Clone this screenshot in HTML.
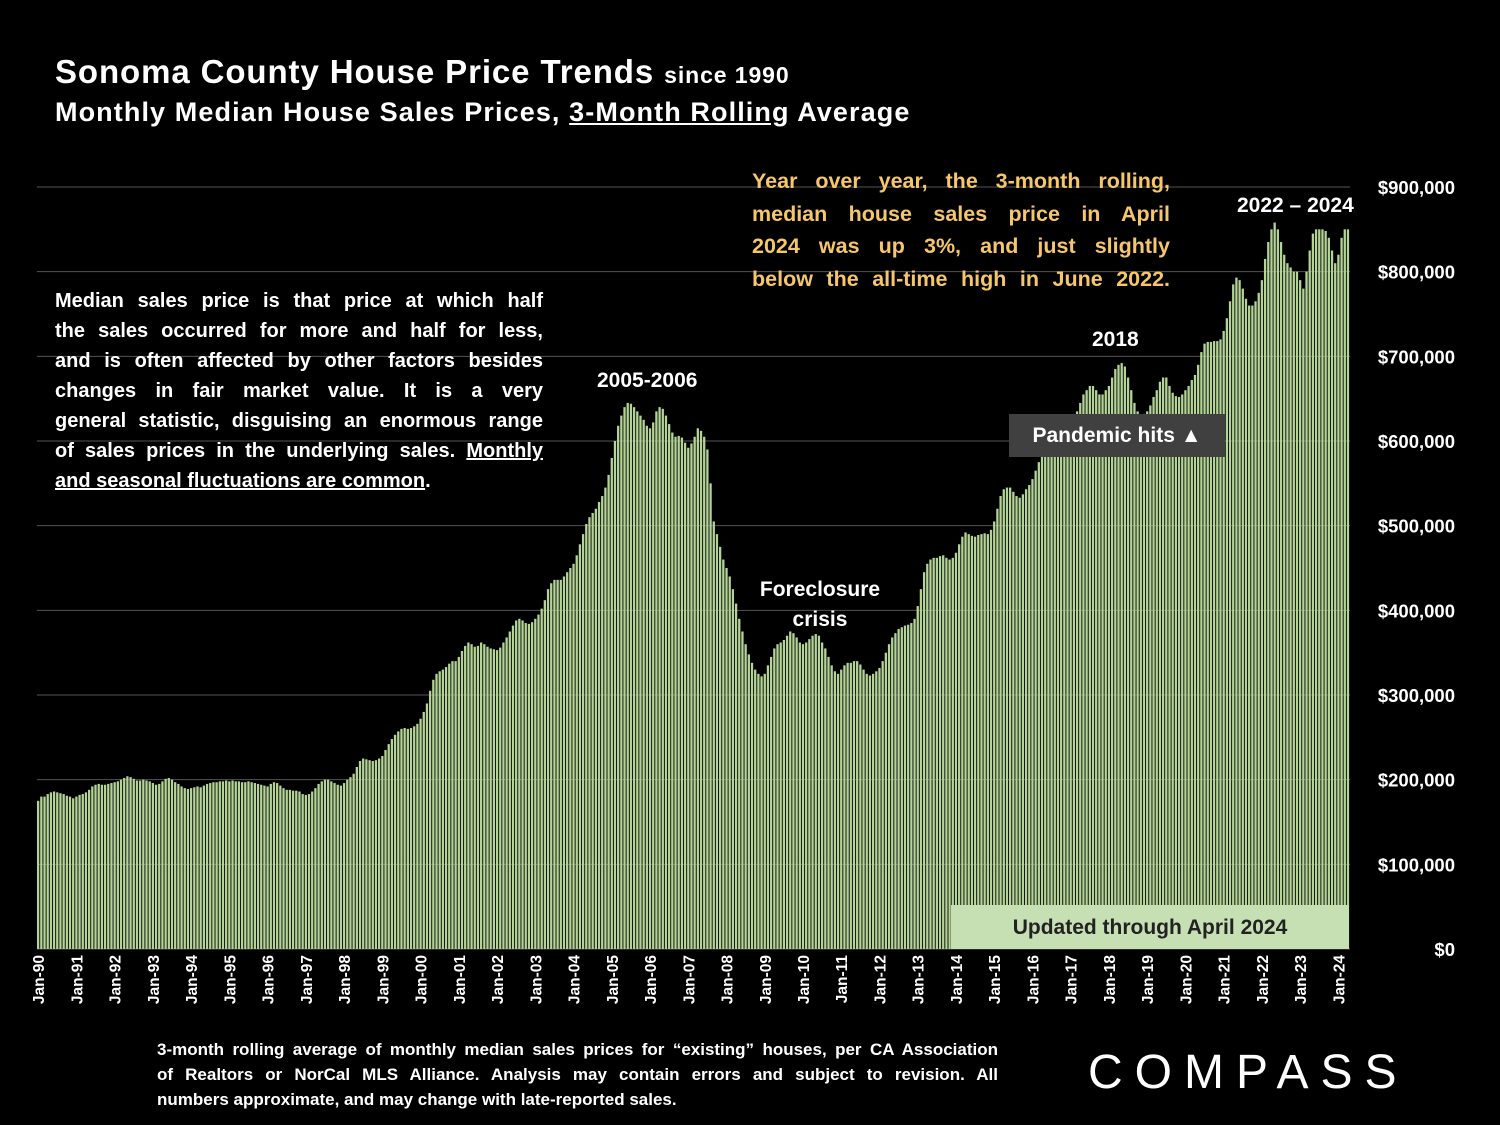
<!DOCTYPE html>
<html><head><meta charset="utf-8">
<style>
body{margin:0;background:#000;width:1500px;height:1125px;overflow:hidden;position:relative;font-family:"Liberation Sans",sans-serif;font-weight:bold;color:#fff}
.abs{position:absolute}
.j{text-align:justify;text-align-last:justify;white-space:nowrap}
.l{text-align:left;white-space:nowrap}
</style></head><body>
<div class="abs" style="left:55px;top:53px;font-size:33px;white-space:nowrap;letter-spacing:0.9px">Sonoma County House Price Trends <span style="font-size:23px">since 1990</span></div>
<div class="abs" style="left:55px;top:97px;font-size:27px;white-space:nowrap;letter-spacing:1.1px">Monthly Median House Sales Prices, <u>3-Month Rolling</u> Average</div>
<svg class="abs" style="left:0;top:0" width="1500" height="1125" id="chart"></svg>
<div class="abs" style="left:752px;top:165px;width:418px;font-size:21.5px;line-height:32.5px;color:#f6c66d">
<div class="j">Year over year, the 3-month rolling,</div>
<div class="j">median house sales price in April</div>
<div class="j">2024 was up 3%, and just slightly</div>
<div class="j">below the all-time high in June 2022.</div></div>
<div class="abs" style="left:55px;top:286px;width:488px;font-size:20px;line-height:30px">
<div class="j">Median sales price is that price at which half</div>
<div class="j">the sales occurred for more and half for less,</div>
<div class="j">and is often affected by other factors besides</div>
<div class="j">changes in fair market value. It is a very</div>
<div class="j">general statistic, disguising an enormous range</div>
<div class="j">of sales prices in the underlying sales. <u>Monthly</u></div>
<div class="l"><u>and seasonal fluctuations are common</u>.</div></div>
<div class="abs" style="left:597px;top:369px;font-size:21px">2005-2006</div>
<div class="abs" style="left:735px;top:575px;width:170px;text-align:center;font-size:21px;line-height:30px">Foreclosure crisis</div>
<div class="abs" style="left:1092px;top:328px;font-size:21px">2018</div>
<div class="abs" style="left:1237px;top:194px;font-size:21px">2022 – 2024</div>
<div class="abs" style="left:1009px;top:414px;width:216px;height:43px;background:#404040;font-size:21px;line-height:43px;text-align:center">Pandemic hits ▲</div>
<div class="abs" style="left:951px;top:905px;width:398px;height:44px;background:#c6e0b4;color:#222;font-size:21px;line-height:46px;text-align:center">Updated through April 2024</div>
<div class="abs" style="left:157px;top:1037px;width:841px;font-size:17px;line-height:25px">
<div class="j">3-month rolling average of monthly median sales prices for “existing” houses, per CA Association</div>
<div class="j">of Realtors or NorCal MLS Alliance. Analysis may contain errors and subject to revision. All</div>
<div class="l">numbers approximate, and may change with late-reported sales.</div></div>
<div class="abs" style="left:1088px;top:1045px;font-size:48px;font-weight:normal;letter-spacing:12px">COMPASS</div>
<script>
const yTicks=[0,100,200,300,400,500,600,700,800,900];
const yearLabels=["Jan-90","Jan-91","Jan-92","Jan-93","Jan-94","Jan-95","Jan-96","Jan-97","Jan-98","Jan-99","Jan-00","Jan-01","Jan-02","Jan-03","Jan-04","Jan-05","Jan-06","Jan-07","Jan-08","Jan-09","Jan-10","Jan-11","Jan-12","Jan-13","Jan-14","Jan-15","Jan-16","Jan-17","Jan-18","Jan-19","Jan-20","Jan-21","Jan-22","Jan-23","Jan-24"];
const prices=[
175,180,180,183,185,186,185,184,183,181,180,178,
180,182,183,185,188,192,194,195,194,194,195,196,
197,198,200,202,204,203,201,199,199,200,199,198,
196,194,195,198,201,202,200,197,195,192,190,189,
190,191,192,191,193,195,196,197,197,198,198,199,
198,199,198,198,197,197,198,197,196,195,194,193,
192,195,197,196,193,190,188,188,187,187,186,183,
182,183,186,190,195,198,200,200,198,196,194,193,
196,200,203,207,215,222,225,224,223,222,223,225,
228,235,242,248,253,257,260,261,260,261,263,266,
272,280,290,305,318,325,328,330,333,337,340,340,
345,352,358,362,360,357,358,362,360,357,355,354,
353,356,362,368,375,382,388,390,388,385,384,386,
390,395,402,412,425,432,436,436,436,440,445,450,
455,465,478,490,502,510,515,520,528,535,545,560,
580,600,618,630,640,645,644,640,635,630,625,618,
615,622,635,640,638,630,620,610,605,606,604,598,
592,597,605,615,612,605,590,550,505,490,475,460,
450,440,425,408,390,375,360,348,338,330,325,322,
325,335,345,355,360,362,365,370,375,373,368,362,
360,362,366,370,372,370,362,355,345,335,328,325,
330,335,338,338,340,340,336,330,325,323,325,328,
332,340,350,360,368,373,378,380,382,383,385,390,
405,425,445,455,460,462,462,464,465,462,460,462,
468,478,487,492,490,488,487,489,490,491,490,495,
505,520,535,543,545,545,540,535,533,537,543,548,
555,565,575,590,600,605,605,605,600,600,605,610,
615,625,635,645,655,660,665,665,660,655,655,660,
665,675,685,690,692,688,675,660,645,635,630,632,
635,642,652,660,670,675,675,665,657,653,652,655,
660,665,672,678,690,705,715,717,717,718,718,720,
730,745,765,785,793,790,780,768,760,760,765,775,
790,815,835,850,858,850,835,820,810,805,800,800,
790,780,800,825,845,850,850,850,848,840,825,810,
820,840,850,850];
const svg=document.getElementById('chart');const NS='http://www.w3.org/2000/svg';
const x0=37,x1=1350,yBase=949,yTop=187;
const step=(x1-x0)/prices.length;
const xs=i=>x0+i*step;
const ys=v=>yBase-(v/900)*(yBase-yTop);
function mk(t,a){const e=document.createElementNS(NS,t);for(const k in a)e.setAttribute(k,a[k]);svg.appendChild(e);return e;}
yTicks.forEach(v=>{
 const l=mk('line',{x1:x0,x2:x1,y1:ys(v),y2:ys(v),stroke:'#555','stroke-width':1});
 
 
 const t=mk('text',{x:1455,y:ys(v)+7,'text-anchor':'end',fill:'#fff','font-size':18.5,'font-weight':'bold','font-family':'Liberation Sans'});
 t.textContent='$'+(v===0?'0':v+',000');
 
 
});
prices.forEach((v,i)=>{
 const r=mk('rect',{x:xs(i),y:ys(v),width:step*0.72,height:yBase-ys(v),fill:'#b3d496'});
 
 
});
yearLabels.forEach((s,k)=>{
 const cx=xs(k*12)+step*0.36+6;
 const t=mk('text',{x:0,y:0,transform:`translate(${cx},955) rotate(-90)`,'text-anchor':'end',fill:'#fff','font-size':15.5,'font-weight':'bold','font-family':'Liberation Sans'});
 t.textContent=s;
 
 
});
</script>
</body></html>
